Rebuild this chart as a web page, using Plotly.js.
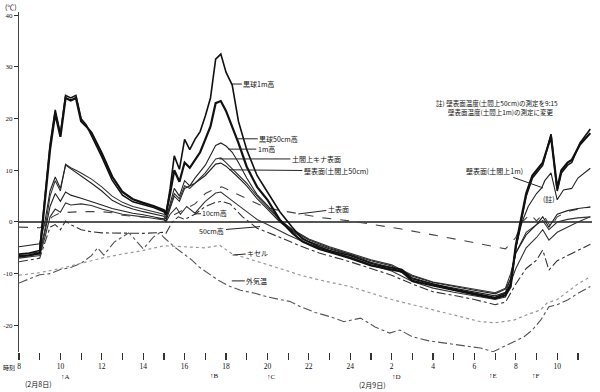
<!DOCTYPE html>
<html><head><meta charset="utf-8">
<script src="https://cdn.plot.ly/plotly-3.0.1.min.js"></script>
<style>html,body{margin:0;padding:0;background:#fff}#chart{width:600px;height:392px}</style>
</head><body><div id="chart"></div>
<script>
// hours counted from 0:00 Feb 8 (24 = midnight, 32 = 8:00 Feb 9)
const globe1m_h = [8,8.5,9,9.25,9.5,9.75,10,10.25,10.5,10.75,11,11.25,11.5,12,12.5,13,13.5,14,14.5,15,15.1,15.3,15.5,15.75,16,16.25,16.5,16.75,17,17.25,17.5,17.75,18,18.3,18.6,19,19.5,20,20.6,21.2,21.7,22.5,23,24,25,25.5,26,26.5,27,28,29,30,31,31.5,31.75,32,32.25,32.5,32.8,33.3,33.7,34,34.2,34.5,34.7,35.1,35.6];
const globe1m_t = [-6.2,-6,-5.5,5,15,21.7,17,24.5,24,24.5,20,18.8,16.8,12.6,8.1,5.2,3.9,3.4,2.8,2.0,1.4,6.5,12.8,10.2,16,14,16,17.5,20.5,24,31.5,32.5,29,26.5,19.5,14,9,5.8,2,-1,-3.3,-4.8,-5.5,-6.5,-8,-8.5,-8.8,-9.2,-11,-12,-13,-13.8,-14.6,-13.8,-12,-5,0,5,8.5,11,17,6,9.5,11,11.5,15.3,18];
const globe50_h = globe1m_h.slice();
const globe50_t = [-6.6,-6.4,-6,4,14,21,16.5,24,23.5,24,19.5,18.5,17.3,13.3,8.8,5.8,4.4,3.7,3.1,2.3,1.6,5.5,10,7.8,11.5,10.5,12,13.5,16,18.5,23,23.4,21.5,18.5,15.3,10.7,6.8,4.3,0.4,-2.1,-3.8,-5.2,-5.8,-7,-8.4,-8.8,-9.1,-9.6,-11.4,-12.3,-13.2,-14,-14.8,-14.2,-12.5,-4.5,0.5,5.5,9,11.5,16.5,6.5,10,11.5,12,15,17.2];
const air1m_h = [8,9,9.25,9.5,9.75,10,10.25,10.5,10.75,11,11.5,12,12.5,13,13.5,14,14.5,15,15.1,15.3,15.5,15.75,16,16.25,16.5,17,17.5,17.75,18,18.3,18.6,19,19.5,20,20.6,21.2,22,23,24,25,26,27,28,29,30,31,31.5,31.75,32,32.5,33,33.3,33.6,34,34.5,35,35.6];
const air1m_t = [-4.8,-4.2,0,6,8.7,6.5,11,10.3,9.7,9,7.5,6,4.2,3.2,2.5,2,1.6,1.1,0.6,3.5,6.5,5,8,7,8.5,11,14.8,15.3,14.7,13.5,11.5,8.5,5.3,3.2,0.5,-1.6,-3.5,-5,-6.2,-7.5,-8.5,-10.5,-11.7,-12.5,-13.2,-13.9,-13,-11,-6,-2.5,-0.5,1,-1,1.5,2.2,2.6,2.9];
const floorSurf_h = air1m_h.slice();
const floorSurf_t = [-6.3,-5.8,-1.5,5,8,6,11.2,10.5,10,9.5,8.3,6.8,5,3.8,3,2.5,2,1.5,1,3,5.5,4.5,7,6.5,7.5,9.5,12.2,12.4,11.5,10.3,9,7.5,5,2.8,0.3,-1.4,-3.3,-4.8,-6,-7.3,-8.3,-10.3,-11.6,-12.3,-13,-13.7,-12.8,-10,-6,-2,-0.5,0.3,-1.5,0,0.5,0.8,1];
const wall_h = [8,9,9.25,9.5,9.75,10,10.25,10.5,11,11.5,12,12.5,13,13.5,14,14.5,15,15.1,15.3,15.5,15.75,16,16.5,17,17.5,17.75,18,18.5,19,19.5,20,20.6,21.2,22,23,24,25,26,27,28,29,30,31,31.5,31.75,32,32.3,32.6,33,33.25,33.4,33.7,34,34.3,34.7,35,35.6];
const wall_t = [-6.8,-6.2,-2,3,5.5,4,5.8,5.2,4.6,4,3.3,2.6,2.1,1.7,1.4,1,0.6,0.2,2.5,5,4,6.5,7.5,9,11.2,11.4,10.8,9,7,4.5,2.5,0,-1.8,-3.8,-5.2,-6.3,-7.8,-8.8,-10.8,-12,-12.8,-13.5,-14.3,-13.6,-11,-5,0,3,5.5,6.6,8,9.5,4.3,6.2,6.5,8.5,10.4];
const soil_h = [8,9,9.3,9.6,10,11,12,12.5,13,14,15,15.3,16,16.5,17,17.5,17.8,18.5,19,19.8,20.5,21.4,22.7,24,25.4,26.4,28,29,30,31,31.5,32,32.3,32.7,33,33.3,33.7,34,34.5,35,35.6];
const soil_t = [-1,-1.1,-0.5,1,1.8,2,2,1.8,1.3,1,0.6,1,2.5,3.5,5.5,6.5,6.8,5.5,4.5,3,2.3,1.7,0.8,0.2,-0.6,-1.3,-2.5,-3.2,-4,-4.8,-5.2,-3,0,1.5,0.2,1.5,-1,1,2,2.5,2.9];
const air10_h = [8,9,9.25,9.5,9.75,10,10.25,10.5,11,11.5,12,13,14,15,15.1,15.3,15.6,15.8,16.1,16.5,17,17.5,17.75,18,18.5,19,19.5,20,21,22,23,24,25,26,27,28,29,30,31,31.5,32,32.5,33,33.3,33.6,34,34.5,35,35.6];
const air10_t = [-7,-6.5,-3,1,2.5,1.9,3.7,3.3,3.5,3.2,2.5,1.5,1,0.4,0,1.5,2.8,1.5,3,1.7,4,5.6,5.8,5,3.5,2,0.5,-0.5,-2.5,-4.3,-5.5,-6.8,-8.3,-9.5,-11.5,-12.8,-13.6,-14.3,-15,-14.5,-9,-5,-3,-1.5,-3.5,-2,-1,0,1];
const air50_h = [8,9,9.25,9.5,9.75,10,10.25,10.5,11,11.5,12,13,14,15,15.1,15.4,15.7,16,16.5,17,17.5,17.8,18.2,18.8,19.5,20.5,21.5,22.5,24,25,26,27,28,29,30,31,31.5,32,32.5,33,33.3,33.6,34,34.5,35,35.6];
const air50_t = [-7.7,-7,-4,-1,-0.5,-1.5,0.2,-0.5,-1.5,-1.9,-2.1,-2.2,-2.2,-2,-2.2,0,1,0.5,1.5,3,3.8,4,3.5,1,-1.2,-2.8,-4.5,-6,-7.7,-9,-10.3,-12,-13.5,-14.2,-15,-16,-15.5,-12,-9,-7.4,-5.4,-9.3,-7.5,-6.5,-5.5,-4.3];
const kiseru_h = [8,9,10,11,12,13,14,15,16,17,17.7,18.3,19,20,21,21.6,22.5,24,25,26,26.7,28,29,30.3,31,31.9,32.5,33.2,33.5,34,34.5,35,35.6];
const kiseru_t = [-10.3,-9.8,-9,-8,-7,-6.2,-5.5,-4.6,-4.8,-5,-4.5,-6.2,-7,-8.2,-9.5,-10.3,-11.2,-12.5,-13.8,-15,-15.7,-17,-18,-19.3,-19.5,-19,-18,-17,-15.7,-15,-13.5,-12,-10.6];
const outdoor_h = [8,8.5,9,9.5,10,10.5,11,11.5,11.8,12.1,12.6,13.3,13.5,14,14.5,14.8,15,15.5,15.9,16.3,16.7,17.2,17.6,18.2,18.7,19.4,20,20.6,21.1,21.6,22.3,23,23.7,24.5,25.2,25.9,26.4,27,27.8,28.7,29.5,30.3,30.9,31.4,31.9,32.4,32.8,33.2,33.6,34,34.5,35,35.6];
const outdoor_t = [-11.8,-11,-10.2,-10,-9.2,-8.8,-8,-6.5,-5,-6.4,-3.9,-2.1,-2.9,-5.2,-2.9,-2.1,-3,-4.8,-6,-7.2,-8.7,-10,-11.2,-12.5,-13.2,-13.8,-14.5,-15,-15.4,-16.4,-17.5,-18.3,-19.3,-18.6,-20.3,-21.5,-20.9,-22.2,-23,-23.5,-23.9,-24.4,-25.1,-24.2,-23.2,-22.2,-20.9,-19,-16.4,-16,-15.1,-13.8,-12.5];

const hourTicks = [8,9,10,11,12,13,14,15,16,17,18,19,20,21,22,23,24,25,26,27,28,29,30,31,32,33,34,35];
const hourLabels = ['8','','10','','12','','14','','16','','18','','20','','22','','24','','2','','4','','6','','8','','10',''];
const tempTicks = [-20,-10,0,10,20,30,40];
const tempLabels = ['-20','-10','0','10','20','30','40'];

const seriesNames = ['黒球1m高','黒球50cm高','1m高','土間上キナ表面','壁表面(土間上50cm)','土表面','10cm高','50cm高','キセル','外気温'];

const JP = '"Noto Sans CJK JP", sans-serif';
const SERIF = '"Liberation Serif", "DejaVu Serif", serif';

// plot area in pixels
const PL = 19, PR = 592, PT = 12, PB = 352;
function px(x) { return (x - PL) / (PR - PL); }
function py(y) { return (PB - y) / (PB - PT); }

function tr(x, y, name, color, width, dash) {
  return {x: x, y: y, name: name, type: 'scatter', mode: 'lines',
          line: {color: color, width: width, dash: dash || 'solid'}, hoverinfo: 'skip'};
}
const data = [
  tr(outdoor_h, outdoor_t, seriesNames[9], '#555', 1.1, 'dashdot'),
  tr(kiseru_h, kiseru_t, seriesNames[8], '#999', 1.2, 'dot'),
  tr(air50_h, air50_t, seriesNames[7], '#333', 1.1, 'dashdot'),
  tr(air10_h, air10_t, seriesNames[6], '#333', 1.1, 'solid'),
  tr(soil_h, soil_t, seriesNames[5], '#444', 1.1, 'dash'),
  tr(wall_h, wall_t, seriesNames[4], '#222', 1.1, 'solid'),
  tr(floorSurf_h, floorSurf_t, seriesNames[3], '#333', 1.1, 'solid'),
  tr(air1m_h, air1m_t, seriesNames[2], '#222', 1.1, 'solid'),
  tr(globe50_h, globe50_t, seriesNames[1], '#111', 2.2, 'solid'),
  tr(globe1m_h, globe1m_t, seriesNames[0], '#111', 1.6, 'solid')
];

function lab(text, x, y, ax, ay) {
  return {text: text, x: x, y: y, xref: 'x', yref: 'y', showarrow: true, arrowhead: 0,
          arrowwidth: 1, arrowcolor: '#222', ax: ax, ay: ay, standoff: 0,
          font: {family: JP, size: 7, color: '#111'}};
}
function txt(text, xp, yp, size, fam) {
  return {text: text, x: px(xp), y: py(yp), xref: 'paper', yref: 'paper', showarrow: false,
          xanchor: 'center', yanchor: 'middle',
          font: {family: fam || JP, size: size || 7, color: '#111'}};
}

const annotations = [
  lab(seriesNames[0], 18.28, 26.7, 27, 0),
  lab(seriesNames[1], 18.52, 16.1, 42, 0),
  lab(seriesNames[2], 18.11, 14.1, 38, 0),
  lab(seriesNames[3], 17.68, 12.2, 97, 0),
  lab(seriesNames[4], 18.16, 10.1, 107, 1),
  lab(seriesNames[5], 21.49, 1.55, 40, -5),
  lab(seriesNames[6], 16.5, 1.55, 20, -1),
  lab(seriesNames[7], 19.64, -0.9, -48, 4),
  lab(seriesNames[8], 18.32, -6.4, 25, -2),
  lab(seriesNames[9], 18.28, -11.4, 25, 0),
  lab('壁表面(土間上1m)', 33.31, 6.6, -48, -17),
  {text: '(註)', x: 33.6, y: 4.5, xref: 'x', yref: 'y', showarrow: false,
   font: {family: JP, size: 7, color: '#111'}},
  txt('註) 壁表面温度(土間上50cm)の測定を9:15', 497, 103, 6.5),
  txt('壁表面温度(土間上1m)の測定に変更', 501, 112, 6.5),
  txt('(℃)', 11, 7, 7),
  txt('時刻', 9, 367, 6),
  txt('↑A', 65, 377, 7, SERIF),
  txt('↑B', 214, 376, 7, SERIF),
  txt('↑C', 271, 377, 7, SERIF),
  txt('↑D', 396, 377, 7, SERIF),
  txt('↑E', 493, 376, 7, SERIF),
  txt('↑F', 536, 376, 7, SERIF),
  txt('(2月8日)', 38, 384, 7),
  txt('(2月9日)', 372, 385, 7)
];

const layout = {
  width: 600, height: 392,
  margin: {l: PL, r: 600 - PR, t: PT, b: 392 - PB},
  paper_bgcolor: '#fff', plot_bgcolor: '#fff',
  showlegend: false,
  xaxis: {range: [8, 35.68], tickmode: 'array', tickvals: hourTicks, ticktext: hourLabels,
          ticks: 'outside', ticklen: 7, tickwidth: 1.2, tickcolor: '#333',
          showline: false, showgrid: false, zeroline: false,
          tickfont: {family: SERIF, size: 7.5, color: '#111'}},
  yaxis: {range: [-25.16, 40.64], tickmode: 'array', tickvals: tempTicks, ticktext: tempLabels,
          ticks: 'outside', ticklen: 4, tickwidth: 1, tickcolor: '#333',
          showline: true, linecolor: '#444', linewidth: 1, showgrid: false,
          zeroline: true, zerolinecolor: '#555', zerolinewidth: 1.5,
          tickfont: {family: SERIF, size: 7, color: '#111'}},
  annotations: annotations
};

Plotly.newPlot('chart', data, layout, {displayModeBar: false, staticPlot: true});
</script>
</body></html>
